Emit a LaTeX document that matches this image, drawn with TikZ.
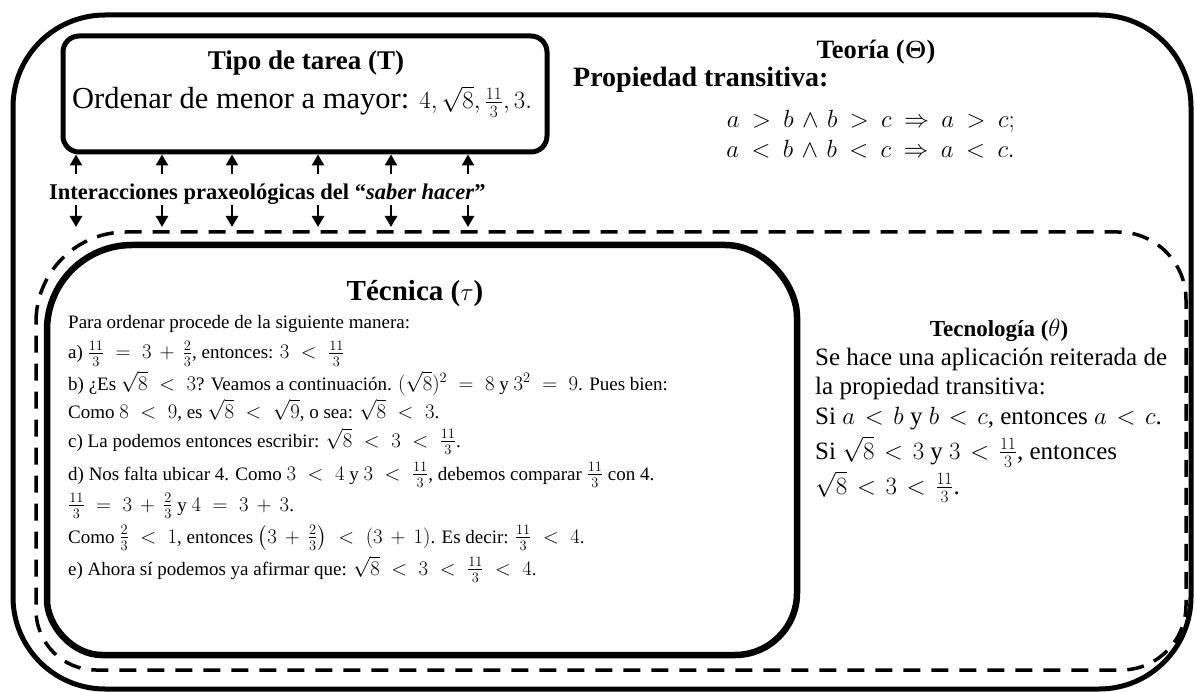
\documentclass[tikz,border=0pt]{standalone}
\usepackage{amsmath}
\usepackage{fontspec}
\setmainfont{Liberation Serif}
\usetikzlibrary{arrows.meta}
\DeclareMathSizes{19}{22}{15.5}{11.5}
\DeclareMathSizes{25}{23}{17}{13}
\DeclareMathSizes{30.5}{26}{19}{14}
\thickmuskip=10mu plus 5mu
\medmuskip=7mu plus 2mu minus 4mu
\newcommand\narrowrel{\thickmuskip=7mu\relax}
\newcommand\lawrel{\thickmuskip=9mu\relax\medmuskip=6mu\relax}
\begin{document}
\begin{tikzpicture}[x=1pt,y=-1pt,
  uparr/.style={line width=2.6pt,-{Triangle[width=12pt,length=11pt]}},
  body/.style={anchor=base west,inner sep=0pt,font=\fontsize{19}{22}\selectfont},
  tbody/.style={anchor=base west,inner sep=0pt,font=\fontsize{25}{28}\selectfont,execute at begin node=\narrowrel},
  head/.style={anchor=base,inner sep=0pt,font=\bfseries\fontsize{27}{32}\selectfont},
  law/.style={anchor=base east,inner sep=0pt,font=\fontsize{26}{30}\selectfont,execute at begin node=\lawrel},
]
\useasboundingbox (0,0) rectangle (1196,692);
% outer box
\draw[line width=5pt, rounded corners=92pt] (13,15) rectangle (1191,689);
% dashed box
\draw[line width=3.5pt, dash pattern=on 17pt off 11pt]
  (36,322) .. controls (36,272.3) and (76.3,232) .. (126,232)
  -- (1118,232) .. controls (1155.56,232) and (1186,262.44) .. (1186,300)
  -- (1186,605) .. controls (1186,640.9) and (1156.9,670) .. (1121,670)
  -- (96,670) .. controls (62.86,670) and (36,643.14) .. (36,610) -- cycle;
% tecnica box
\draw[line width=6.5pt]
  (47,330) .. controls (47,283.05) and (85.05,245) .. (132,245)
  -- (725,245) .. controls (764.77,245) and (797,284.77) .. (797,317)
  -- (797,593) .. controls (797,627.24) and (769.24,655) .. (735,655)
  -- (102,655) .. controls (71.62,655) and (47,624.62) .. (47,600) -- cycle;
% tipo de tarea box
\node[draw, line width=5pt, rounded corners=16pt, minimum width=484pt, minimum height=116pt, inner sep=0pt] (tipo) at (305,94) {};
\node[head] (tipotit) at (306,70) {Tipo de tarea (T)};
\node[anchor=base west, inner sep=0pt, font=\fontsize{30.5}{34}\selectfont, execute at begin node=\lawrel] (tipotxt) at (72,109) {Ordenar de menor a mayor: $4,\sqrt{8},\frac{11}{3},3.$};
% interacciones
\node[anchor=base west, inner sep=0pt, font=\bfseries\fontsize{22.5}{26}\selectfont] (inter) at (49,200) {Interacciones praxeológicas del ``\textit{saber hacer}''};
\foreach \x [count=\i] in {76,162,232,318,391,468} {
  \coordinate (ut\i) at (\x,174);
  \coordinate (dt\i) at (\x,205);
  \coordinate (dh\i) at (\x,227);
  \draw[uparr] (ut\i) -- (tipo.south -| ut\i);
  \draw[uparr] (dt\i) -- (dh\i);
}
% teoria
\node[anchor=base, inner sep=0pt, font=\bfseries\fontsize{26.5}{30}\selectfont] (teoria) at (876,59) {Teoría ($\boldsymbol{\Theta}$)};
\node[anchor=base west, inner sep=0pt, font=\bfseries\fontsize{28}{32}\selectfont] (prop) at (573,87) {Propiedad transitiva:};
\node[law] (ley1) at (1015,128) {$a>b\wedge b>c\Rightarrow a>c;$};
\node[law] (ley2) at (1015,158) {$a<b\wedge b<c\Rightarrow a<c.$};
% tecnica
\node[anchor=base, inner sep=0pt, font=\bfseries\fontsize{29}{34}\selectfont] (tectit) at (415,301) {Técnica ($\tau$)};
\node[body] (l1) at (68,329) {Para ordenar procede de la siguiente manera:};
\node[body] (l2) at (68,359) {a) $\frac{11}{3}=3+\frac{2}{3}$, entonces: $3<\frac{11}{3}$};
\node[body] (l3) at (68,390) {b) ¿Es $\sqrt{8}<3$? Veamos a continuación. $(\sqrt{8})^2=8$ y $3^2=9$. Pues bien:};
\node[body] (l4) at (68,418) {Como $8<9$, es $\sqrt{8}<\sqrt{9}$, o sea: $\sqrt{8}<3$.};
\node[body] (l5) at (68,447) {c) La podemos entonces escribir: $\sqrt{8}<3<\frac{11}{3}$.};
\node[body] (l6) at (68,480) {d) Nos falta ubicar 4. Como $3<4$ y $3<\frac{11}{3}$, debemos comparar $\frac{11}{3}$ con 4.};
\node[body] (l7) at (68,511) {$\frac{11}{3}=3+\frac{2}{3}$ y $4=3+3$.};
\node[body] (l8) at (68,543) {Como $\frac{2}{3}<1$, entonces $\left(3+\frac{2}{3}\right)<(3+1)$. Es decir: $\frac{11}{3}<4$.};
\node[body] (l9) at (68,575) {e) Ahora sí podemos ya afirmar que: $\sqrt{8}<3<\frac{11}{3}<4$.};
% tecnologia
\node[anchor=base, inner sep=0pt, font=\bfseries\fontsize{23}{26}\selectfont] (tgtit) at (999,337) {Tecnología ($\theta$)};
\node[tbody] (t1) at (815,365) {Se hace una aplicación reiterada de};
\node[tbody] (t2) at (815,394) {la propiedad transitiva:};
\node[tbody] (t3) at (815,424) {Si $a<b$ y $b<c$, entonces $a<c$.};
\node[tbody] (t4) at (815,459) {Si $\sqrt{8}<3$ y $3<\frac{11}{3}$, entonces};
\node[tbody] (t5) at (815,494) {$\sqrt{8}<3<\frac{11}{3}$.};
\end{tikzpicture}
\end{document}
